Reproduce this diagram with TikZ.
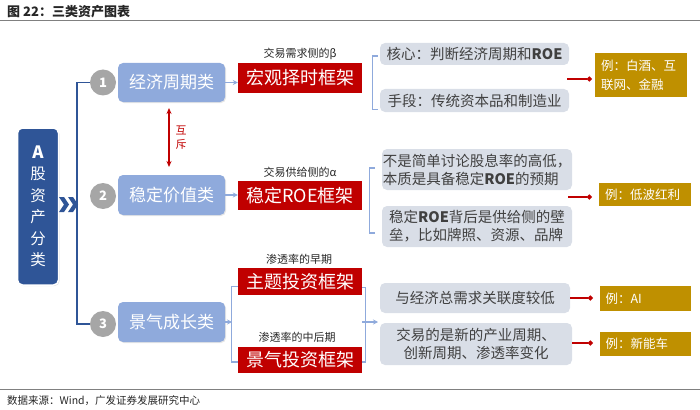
\documentclass[tikz,border=0pt]{standalone}
\usepackage{fontspec}
\setmainfont{Noto Sans CJK SC}
\usetikzlibrary{arrows.meta,calc,shadows}
\definecolor{darkblue}{HTML}{2F5597}
\definecolor{catblue}{HTML}{8FAADC}
\definecolor{brblue}{HTML}{8FAADC}
\definecolor{redc}{HTML}{C00000}
\definecolor{grayfill}{HTML}{D9DEE7}
\definecolor{graytext}{HTML}{404040}
\definecolor{gold}{HTML}{BF9000}
\definecolor{numgray}{HTML}{A6A6A6}
\definecolor{rulegray}{HTML}{808080}
\newcommand{\fsz}[2]{\fontsize{#1}{#2}\selectfont}
\begin{document}
\begin{tikzpicture}[x=1pt,y=-1pt,
  abox/.style={rounded corners=5pt, fill=darkblue, draw=white, line width=1.5pt, text=white,
    minimum width=41pt, minimum height=157pt, align=center, inner sep=0pt, font=\fsz{15.5}{21.5},
    drop shadow={opacity=0.25, shadow xshift=1pt, shadow yshift=-1pt}},
  numc/.style={circle, fill=numgray, text=white, minimum size=26pt, inner sep=0pt, font=\bfseries\fsz{13}{15}},
  catbox/.style={rounded corners=5pt, fill=catblue, text=white, minimum width=107pt, inner sep=0pt,
    font=\fsz{17}{20}, drop shadow={opacity=0.2, shadow xshift=1pt, shadow yshift=-1pt}},
  redbox/.style={fill=redc, text=white, minimum width=124pt, inner sep=0pt, font=\fsz{18}{20}},
  lbl/.style={text=black!85, font=\fsz{11}{13}, inner sep=1pt},
  graybox/.style={rounded corners=5pt, fill=grayfill, text=graytext, inner sep=0pt, align=left, font=\fsz{14.5}{18}},
  goldbox/.style={fill=gold, text=white, inner sep=0pt, align=left, font=\fsz{12.5}{19}},
  treeline/.style={draw=darkblue, line width=1.4pt},
  barrow/.style={draw=catblue, line width=1.2pt, -{Stealth[length=5pt,width=5pt]}},
  bline/.style={draw=brblue, line width=1.2pt},
  rline/.style={draw=redc, line width=1.2pt, -{Circle[length=5pt]}},
  rarrow/.style={draw=redc, line width=1.3pt, {Stealth[length=6pt,width=5pt]}-{Stealth[length=6pt,width=5pt]}},
  rule/.style={draw=rulegray, line width=1pt}
]
\useasboundingbox (0,0) rectangle (700,409);

% title and rules
\node[anchor=west, font=\bfseries\fsz{13}{15}, text=black!85, inner sep=0pt] (title) at (7,12) {图 22：三类资产图表};
\draw[rule] (0,21) -- (700,21);
\draw[rule] (0,389) -- (700,389);
\node[anchor=west, font=\fsz{10.5}{12}, text=black!85, inner sep=0pt] (src) at (7,401) {数据来源：Wind，广发证券发展研究中心};

% left main box
\node[abox] (A) at (38,206.5) {{\bfseries\fsz{17}{21.5}A}\\股\\资\\产\\分\\类};
\fill[darkblue] (59,197) -- (64,197) -- (69,204.5) -- (64,212) -- (59,212) -- (64,204.5) -- cycle;
\fill[darkblue] (68,197) -- (73,197) -- (78,204.5) -- (73,212) -- (68,212) -- (73,204.5) -- cycle;

% number circles
\node[numc] (c1) at (103,82.5) {1};
\node[numc] (c2) at (103,196) {2};
\node[numc] (c3) at (103,324) {3};
\draw[treeline] (c1.west) -- ++(-13,0) |- (c3.west);

% category boxes
\node[catbox, minimum height=39pt] (k1) at (171.5,82.5) {经济周期类};
\node[catbox, minimum height=40pt] (k2) at (171.5,195) {稳定价值类};
\node[catbox, minimum height=40pt] (k3) at (171.5,322) {景气成长类};

% mutual exclusion
\coordinate (m1) at (169,108);
\coordinate (m2) at (169,167);
\draw[rarrow] (m1) -- (m2);
\node[text=redc, font=\fsz{11}{14}, align=center, inner sep=0pt] (hx) at (181,138) {互\\斥};

% red frame boxes
\node[redbox, minimum height=30pt] (r1) at (300,78) {宏观择时框架};
\node[redbox, minimum height=29pt] (r2) at (300,195.5) {稳定ROE框架};
\node[redbox, minimum height=27pt] (r3) at (300,281.5) {主题投资框架};
\node[redbox, minimum height=26pt] (r4) at (300,360) {景气投资框架};

\node[lbl] (l1) at (300,54) {交易需求侧的β};
\node[lbl] (l2) at (300,172) {交易供给侧的α};
\node[lbl] (l3) at (299,259) {渗透率的早期};
\node[lbl] (l4) at (297,337) {渗透率的中后期};

\draw[barrow] (k1.east) -- (k1.east -| r1.west);
\draw[barrow] (k2.east) -- (k2.east -| r2.west);
\coordinate (b3) at (232,322);
\draw[barrow] (k3.east) -- (b3);
\draw[bline] ($(r3.west)+(0,5)$) -- ++(-6,0) |- ($(r4.west)+(0,2)$);
\draw[bline] ($(r3.east)+(0,6)$) -- ++(3,0) |- ($(r4.east)+(0,2)$);
\coordinate (b4a) at (362,322);
\coordinate (b4b) at (378,322);
\draw[barrow] (b4a) -- (b4b);

% gray description boxes
\node[graybox, minimum width=189pt, minimum height=22pt] (g1a) at (474.5,54) {核心：判断经济周期和\textbf{ROE}};
\node[graybox, minimum width=189pt, minimum height=23pt] (g1b) at (474.5,100.5) {手段：传统资本品和制造业};
\node[graybox, minimum width=190pt, minimum height=41pt] (g2a) at (477,169.5) {不是简单讨论股息率的高低，\\本质是具备稳定\textbf{ROE}的预期};
\node[graybox, minimum width=190pt, minimum height=41pt] (g2b) at (477,226.5) {稳定\textbf{ROE}背后是供给侧的壁\\垒，比如牌照、资源、品牌};
\node[graybox, minimum width=190pt, minimum height=30pt] (g3a) at (475,298) {与经济总需求关联度较低};
\node[graybox, minimum width=192pt, minimum height=42pt, align=center] (g3b) at (476,344) {交易的是新的产业周期、\\创新周期、渗透率变化};

\draw[bline] ($(g1a.west)+(-2,2)$) -- ++(-5,0) |- ($(g1b.west)+(-2,9)$);
\draw[bline] ($(g2a.west)+(-7,-1.5)$) -- ++(-5,0) |- ($(g2b.west)+(-7,6.5)$);

% gold example boxes
\node[goldbox, minimum width=92pt, minimum height=44pt, text width=80pt] (o1) at (641,75) {例：白酒、互\\联网、金融};
\node[goldbox, minimum width=92pt, minimum height=23pt, text width=80pt] (o2) at (645,194.5) {例：低波红利};
\node[goldbox, minimum width=91pt, minimum height=25pt, text width=80pt] (o3) at (645.5,298.5) {例：AI};
\node[goldbox, minimum width=91pt, minimum height=24pt, text width=80pt] (o4) at (645.5,344) {例：新能车};

\coordinate (p1) at (567,79);
\coordinate (p2) at (568,197);
\draw[rline] (p1) -- ($(o1.west |- p1)+(-3,0)$);
\draw[rline] (p2) -- ($(o2.west |- p2)+(-7,0)$);
\draw[rline] (g3a.east) -- ($(o3.west |- g3a.east)+(-7,0)$);
\draw[rline] ($(g3b.east)+(0,-1)$) -- ($(o4.west |- g3b.east)+(-7,-1)$);
\end{tikzpicture}
\end{document}
